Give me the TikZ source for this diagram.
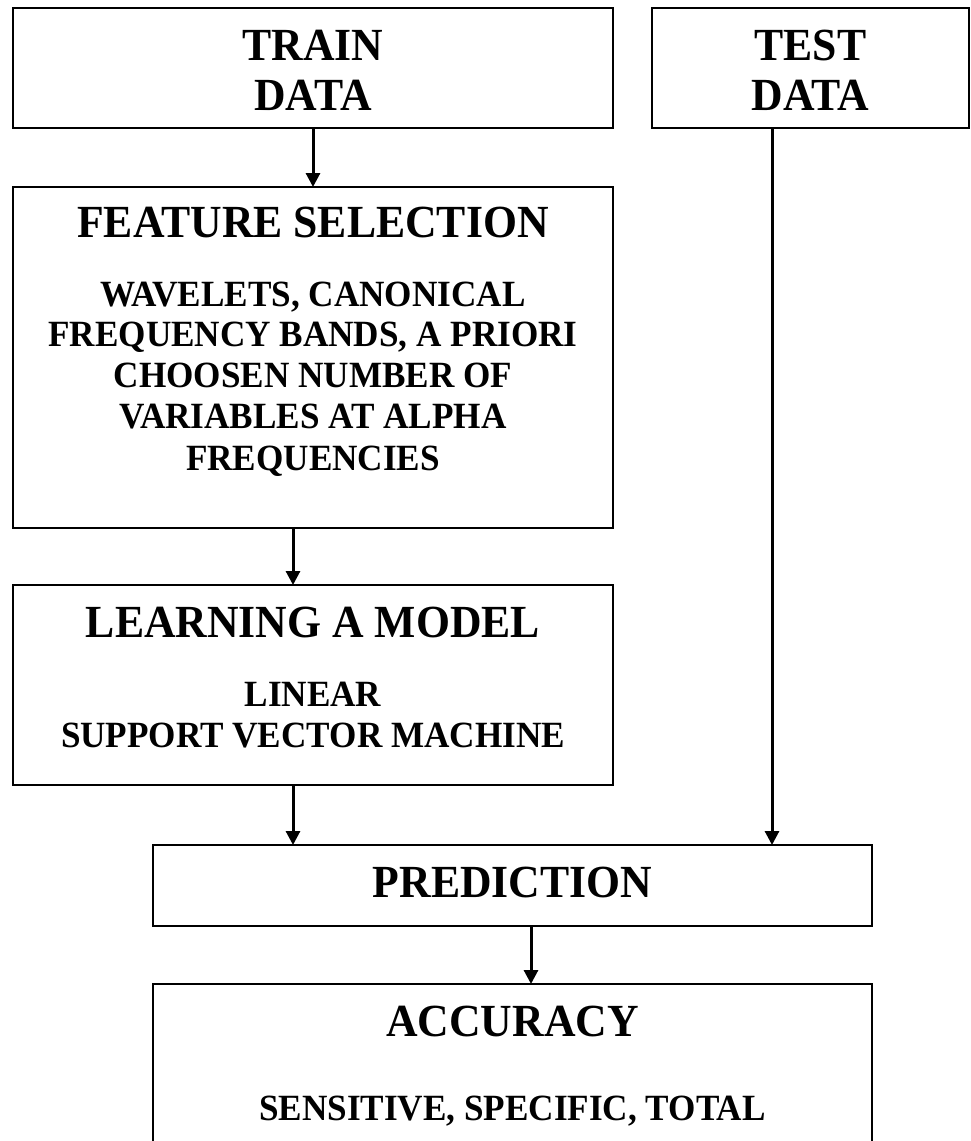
\documentclass[tikz,border=0pt]{standalone}
\usepackage{fontspec}
\setmainfont{Liberation Serif}[FakeStretch=0.95]
\usetikzlibrary{arrows.meta}
\begin{document}
\begin{tikzpicture}[x=1pt,y=-1pt,
  box/.style={draw, line width=2pt, rectangle, inner sep=0pt, outer sep=0pt},
  title/.style={anchor=base, font=\fontsize{46}{50}\selectfont\bfseries, inner sep=0pt},
  sub/.style={anchor=base, font=\fontsize{37}{41}\selectfont\bfseries, inner sep=0pt},
  arr/.style={line width=3pt, -{Triangle[width=14pt,length=14pt]}}]
\useasboundingbox (0,0) rectangle (970,1141);
\clip (0,0) rectangle (970,1141);
\fill[white] (0,0) rectangle (970,1141);
% boxes
\node[box, minimum width=600pt, minimum height=120pt] (train) at (313,68) {};
\node[box, minimum width=317pt, minimum height=120pt] (test) at (810.5,68) {};
\node[box, minimum width=600pt, minimum height=341pt] (feature) at (313,357.5) {};
\node[box, minimum width=600pt, minimum height=200pt] (learn) at (313,685) {};
\node[box, minimum width=719pt, minimum height=81pt] (pred) at (512.5,885.5) {};
\node[box, minimum width=719pt, minimum height=186pt] (acc) at (512.5,1077) {};
% texts
\node[title] (trainA) at (313,60) {TRAIN};
\node[title] (trainB) at (313,110) {DATA};
\node[title] (testA) at (810.5,60) {TEST};
\node[title] (testB) at (810.5,110) {DATA};
\node[title] (featT) at (313,237) {FEATURE SELECTION};
\node[sub] (featA) at (313,306) {WAVELETS, CANONICAL};
\node[sub] (featB) at (313,346) {FREQUENCY BANDS, A PRIORI};
\node[sub] (featC) at (313,387) {CHOOSEN NUMBER OF};
\node[sub] (featD) at (313,428) {VARIABLES AT ALPHA};
\node[sub] (featE) at (313,470) {FREQUENCIES};
\node[title] (learnT) at (313,637) {LEARNING A MODEL};
\node[sub] (learnA) at (313,706) {LINEAR};
\node[sub] (learnB) at (313,747) {SUPPORT VECTOR MACHINE};
\node[title] (predT) at (512.5,897) {PREDICTION};
\node[title] (accT) at (512.5,1036) {ACCURACY};
\node[sub] (accA) at (512.5,1120) {SENSITIVE, SPECIFIC, TOTAL};
% connectors
\draw[arr] (train.south) -- (feature.north);
\draw[arr] ([xshift=-20pt]feature.south) -- ([xshift=-20pt]learn.north);
\draw[arr] ([xshift=-20pt]learn.south) -- ([xshift=-20pt]learn.south |- pred.north);
\draw[arr] ([xshift=-38.5pt]test.south) -- ([xshift=-38.5pt]test.south |- pred.north);
\draw[arr] ([xshift=18.5pt]pred.south) -- ([xshift=18.5pt]acc.north);
\end{tikzpicture}
\end{document}
